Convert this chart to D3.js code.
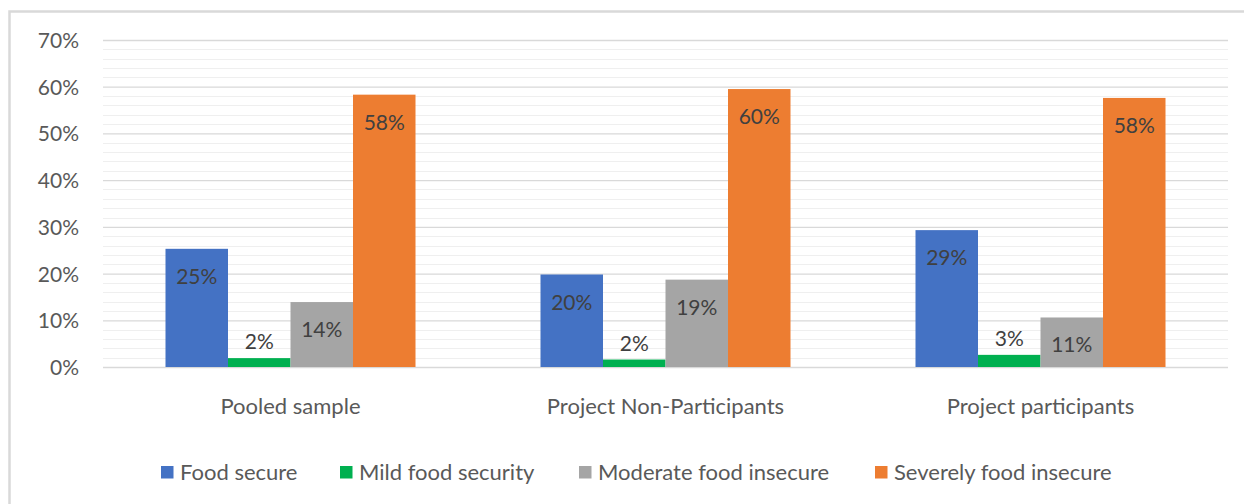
<!DOCTYPE html>
<html>
<head>
<meta charset="utf-8">
<script src="https://cdn.jsdelivr.net/npm/d3@7"></script>
<style>
  html, body { margin: 0; padding: 0; background: #ffffff; }
  svg { display: block; }
  text { font-family: Lato, "Open Sans", sans-serif; }
</style>
</head>
<body>
<svg id="chart" width="1244" height="504"></svg>
<script>
// Household food security status by sample group
const groups = ["Pooled sample", "Project Non-Participants", "Project participants"];
const seriesNames = ["Food secure", "Mild food security", "Moderate food insecure", "Severely food insecure"];
const seriesColors = ["#4472C4", "#00B050", "#A5A5A5", "#ED7D31"];
// Shares per group, one array per series (fractions of households)
const foodSecure = [0.253, 0.198, 0.293];
const mildFoodSecurity = [0.019, 0.016, 0.026];
const moderateInsecure = [0.139, 0.187, 0.106];
const severelyInsecure = [0.583, 0.595, 0.576];
const yTicks = [0, 0.1, 0.2, 0.3, 0.4, 0.5, 0.6, 0.7];

const seriesValues = [foodSecure, mildFoodSecurity, moderateInsecure, severelyInsecure];

const svg = d3.select("#chart");

// Outer chart frame
svg.append("rect")
  .attr("x", 9.5).attr("y", 11.5)
  .attr("width", 1260).attr("height", 520)
  .attr("fill", "#ffffff")
  .attr("stroke", "#d9d9d9")
  .attr("stroke-width", 2.5);

const plot = { left: 103, right: 1228, top: 40, bottom: 367 };

const y = d3.scaleLinear().domain([0, 0.7]).range([plot.bottom, plot.top]);
const x0 = d3.scaleBand().domain(groups).range([plot.left, plot.right]).paddingInner(0).paddingOuter(0);
const x1 = d3.scaleBand().domain(seriesNames)
  .range([x0.bandwidth() / 6, x0.bandwidth() * 5 / 6]).padding(0);

// Minor gridlines every 2%
const minorTicks = d3.range(0, 0.7001, 0.02).filter(v => Math.abs(Math.round(v * 100) % 10) !== 0);
svg.append("g").selectAll("line").data(minorTicks).join("line")
  .attr("x1", plot.left).attr("x2", plot.right)
  .attr("y1", d => Math.round(y(d)) + 0.5).attr("y2", d => Math.round(y(d)) + 0.5)
  .attr("stroke", "#efefef").attr("stroke-width", 1.2);

// Major gridlines and y-axis labels
const yAxis = d3.axisLeft(y).tickValues(yTicks)
  .tickFormat(d3.format(".0%"))
  .tickSize(-(plot.right - plot.left)).tickPadding(24);
const gy = svg.append("g").attr("transform", `translate(${plot.left},0)`).call(yAxis);
gy.select(".domain").remove();
gy.selectAll(".tick line").attr("stroke", "#d9d9d9").attr("stroke-width", 1.3);
gy.selectAll(".tick text")
  .attr("fill", "#595959").attr("font-size", 21).attr("dy", "0.36em");

// Bars
const barGroups = svg.append("g").selectAll("g").data(groups).join("g")
  .attr("transform", d => `translate(${x0(d)},0)`);

const cells = barGroups.selectAll("g.cell")
  .data((g, gi) => seriesNames.map((s, si) => ({ series: s, si, value: seriesValues[si][gi] })))
  .join("g").attr("class", "cell");

cells.append("rect")
  .attr("x", d => x1(d.series))
  .attr("y", d => y(d.value))
  .attr("width", x1.bandwidth())
  .attr("height", d => y(0) - y(d.value))
  .attr("fill", d => seriesColors[d.si]);

// Value labels: inside the bar top, or just above short bars
const pct = d3.format(".0%");
cells.append("text")
  .attr("x", d => x1(d.series) + x1.bandwidth() / 2)
  .attr("y", d => (y(0) - y(d.value) > 40) ? y(d.value) + 35 : y(d.value) - 9)
  .attr("text-anchor", "middle")
  .attr("font-size", 21)
  .attr("fill", "#404040")
  .text(d => pct(d.value));

// Category axis labels
const xAxis = d3.axisBottom(x0).tickSize(0).tickPadding(0);
const gx = svg.append("g").attr("transform", `translate(0,${plot.bottom})`).call(xAxis);
gx.select(".domain").remove();
gx.selectAll(".tick text")
  .attr("y", 47).attr("dy", 0)
  .attr("fill", "#595959").attr("font-size", 22);

// Legend
const legendX = [161, 340, 579, 875];
const legend = svg.append("g").selectAll("g").data(seriesNames).join("g")
  .attr("transform", (d, i) => `translate(${legendX[i]},480)`);
legend.append("rect")
  .attr("x", 0).attr("y", -14).attr("width", 12.5).attr("height", 12.5)
  .attr("fill", (d, i) => seriesColors[i]);
legend.append("text")
  .attr("x", 19).attr("y", 0)
  .attr("fill", "#595959").attr("font-size", 22)
  .text(d => d);
</script>
</body>
</html>
